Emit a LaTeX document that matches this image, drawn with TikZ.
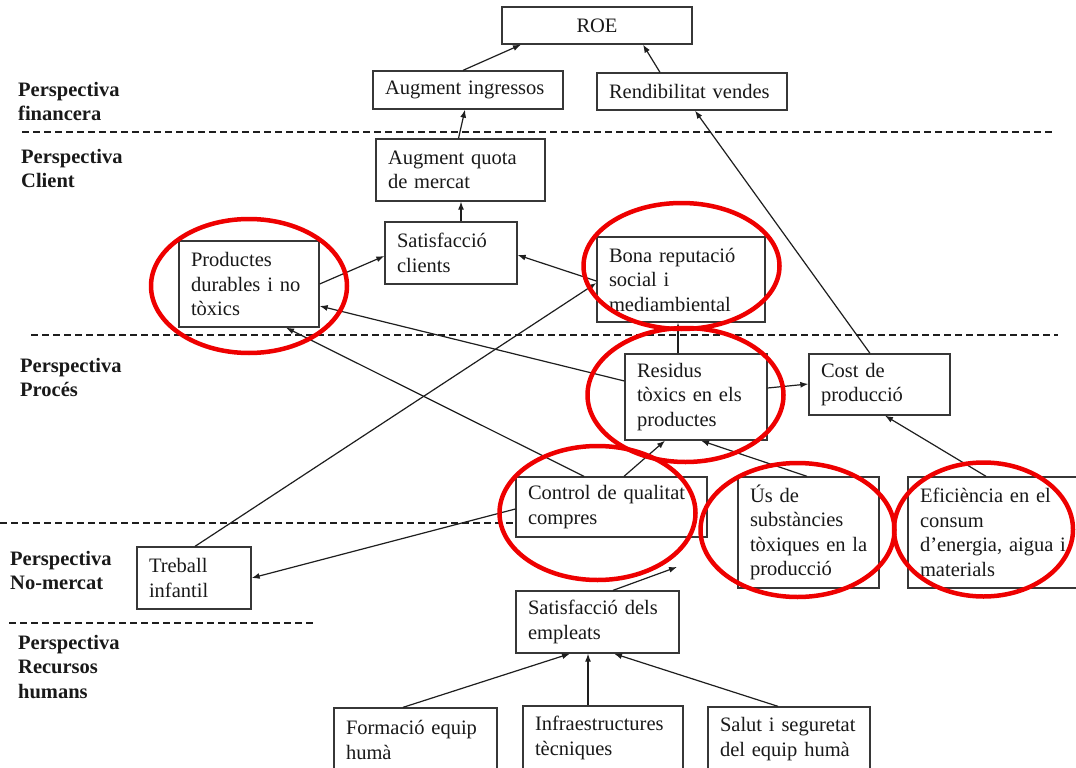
\documentclass[tikz,border=0pt]{standalone}
\usepackage{fontspec}
\setmainfont{Liberation Serif}
\usetikzlibrary{arrows.meta,calc}
\definecolor{boxc}{RGB}{55,55,55}
\definecolor{linec}{RGB}{30,30,30}
\definecolor{redc}{RGB}{238,0,0}
\newcommand{\boxfont}{\fontsize{20.5}{24.5}\selectfont}
\begin{document}
\begin{tikzpicture}[x=1pt,y=-1pt,
  font=\boxfont,
  box/.style={draw=boxc, line width=1.3pt, fill=white, inner xsep=12pt, inner ysep=0pt, align=left, text=black!90},
  lab/.style={anchor=north west, inner sep=0pt, align=left, font=\boxfont\bfseries, text=black!90},
  sep/.style={draw=linec, line width=1.2pt, dash pattern=on 7pt off 4pt},
  arr/.style={draw=linec, line width=1.2pt, -{Latex[length=8pt,width=6pt]}},
  ring/.style={draw=redc, line width=4.5pt}]
\useasboundingbox (0,0) rectangle (1076,768);
\fill[white] (0,0) rectangle (1076,768);

% separators
\draw[sep] (22,132) -- (1052,132);
\draw[sep] (31,335) -- (1058,335);
\draw[sep] (0,523) -- (516,523);
\draw[sep] (9,623) -- (314,623);

% perspective labels
\node[lab] (l1) at (18,78.85) {\strut Perspectiva\\financera};
\node[lab] (l2) at (21,145.85) {\strut Perspectiva\\Client};
\node[lab] (l3) at (20,354.85) {\strut Perspectiva\\Procés};
\node[lab] (l4) at (10,547.85) {\strut Perspectiva\\No-mercat};
\node[lab] (l5) at (18,631.85) {\strut Perspectiva\\Recursos\\humans};

% boxes
\node[box, align=center, minimum width=190, text width=166, minimum height=37] (roe) at (597,25.5) {ROE};
\node[box, minimum width=190, text width=166, minimum height=38] (ai) at (468,90) {Augment~ingressos};
\node[box, minimum width=190, text width=166, minimum height=37] (rv) at (692,91.5) {Rendibilitat~vendes};
\node[box, minimum width=169, text width=145, minimum height=62] (aq) at (460.5,170) {Augment~quota\\de~mercat};
\node[box, minimum width=132, text width=108, minimum height=62] (sc) at (451,253) {Satisfacció\\clients};
\node[box, minimum width=140, text width=116, minimum height=86] (pd) at (249,284) {Productes\\durables~i~no\\tòxics};
\node[box, minimum width=168, text width=144, minimum height=85] (br) at (681,279.5) {Bona~reputació\\social~i\\mediambiental};
\node[box, minimum width=142, text width=118, minimum height=86] (rt) at (696,397) {Residus\\tòxics~en~els\\productes};
\node[box, minimum width=141, text width=117, minimum height=61] (cp) at (879.5,384.5) {Cost~de\\producció};
\node[box, minimum width=191, text width=167, minimum height=60] (cq) at (611.5,507) {Control~de~qualitat\\compres};
\node[box, minimum width=141, text width=117, minimum height=111] (us) at (808.5,532.5) {Ús~de\\substàncies\\tòxiques~en~la\\producció};
\node[box, minimum width=170, text width=146, minimum height=111] (ef) at (993,532.5) {Eficiència~en~el\\consum\\d'energia,~aigua~i\\materials};
\node[box, minimum width=114, text width=90, minimum height=62] (ti) at (194,578) {Treball\\infantil};
\node[box, minimum width=163, text width=139, minimum height=62] (se) at (597.5,622) {Satisfacció~dels\\empleats};
\node[box, minimum width=163, text width=139, minimum height=64] (fe) at (415.5,740) {Formació~equip\\humà};
\node[box, minimum width=160, text width=136, minimum height=64] (it) at (603,738) {Infraestructures\\tècniques};
\node[box, minimum width=162, text width=138, minimum height=64] (sh) at (789,739) {Salut~i~seguretat\\del~equip~humà};

\coordinate (setip) at (677,567);

% connectors
\draw[arr] ($(ai.north)+(-5,0)$) -- ($(roe.south)+(-76,0)$);
\draw[arr] ($(rv.north)+(-32,0)$) -- ($(roe.south)+(46,0)$);
\draw[arr] ($(aq.north)+(-2,0)$) -- ($(ai.south)+(-3,0)$);
\draw[arr] ($(sc.north)+(10,0)$) -- ($(aq.south)+(0.5,0)$);
\draw[arr] (pd.east) -- ($(sc.west)+(0,3)$);
\draw[arr] ($(br.west)+(0,1.5)$) -- ($(sc.east)+(0,2)$);
\draw[arr] ($(rt.west)+(0,-16)$) -- ($(pd.east)+(0,22)$);
\draw[arr] ($(cq.north)+(-27.5,0)$) -- ($(pd.south)+(37,0)$);
\draw[arr] ($(ti.north)+(1,0)$) -- ($(br.west)+(0,3.5)$);
\draw[arr] ($(cq.west)+(0,2)$) -- (ti.east);
\draw[arr] ($(rt.north)+(-18,0)$) -- ($(br.south)+(-3,0)$);
\draw[arr] ($(rt.east)+(0,-9)$) -- ($(cp.west)+(0,-0.5)$);
\draw[arr] ($(cp.north)+(-9.5,0)$) -- ($(rv.south)+(3,0)$);
\draw[arr] ($(cq.north)+(12.5,0)$) -- ($(rt.south)+(-31,0)$);
\draw[arr] ($(us.north)+(-1.5,0)$) -- ($(rt.south)+(5,0)$);
\draw[arr] ($(ef.north)+(-7,0)$) -- ($(cp.south)+(5.5,0)$);
\draw[arr] ($(se.north)+(15.5,0)$) -- (setip);
\draw[arr] ($(fe.north)+(-12.5,0)$) -- ($(se.south)+(-27.5,0)$);
\draw[arr] ($(it.north)+(-15,0)$) -- ($(se.south)+(-9.5,0)$);
\draw[arr] ($(sh.north)+(-11,0)$) -- ($(se.south)+(16.5,0)$);

% red highlight rings
\draw[ring] (249,286) ellipse [x radius=98, y radius=67];
\draw[ring] (681.5,266) ellipse [x radius=98, y radius=63];
\draw[ring] (685.5,395) ellipse [x radius=98, y radius=67];
\draw[ring] (597.5,513) ellipse [x radius=98, y radius=67];
\draw[ring] (797.5,530) ellipse [x radius=97, y radius=67];
\draw[ring] (983.5,529.5) ellipse [x radius=89.5, y radius=67];
\end{tikzpicture}
\end{document}
